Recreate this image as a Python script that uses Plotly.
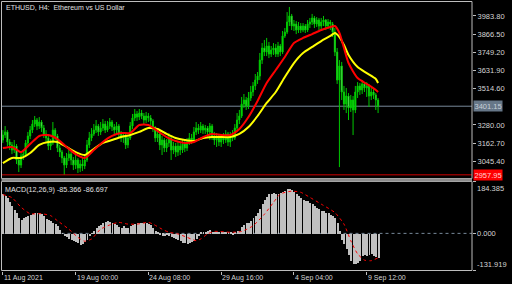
import plotly.graph_objects as go

W, H = 512, 284

# ---------------- data ----------------
first_open = 3183
closes = [3215, 3235, 3170, 3151, 3118, 3144, 3054, 3021, 3080, 3092,
          3164, 3209, 3247, 3286, 3312, 3273, 3299, 3260, 3222, 3196,
          3144, 3164, 3247, 3209, 3131, 3105, 3067, 3021, 3067, 3092,
          3054, 3021, 3054, 3002, 3028, 3015, 3054, 3151, 3196, 3222,
          3247, 3273, 3235, 3260, 3286, 3247, 3273, 3299, 3267, 3247,
          3273, 3222, 3196, 3209, 3151, 3196, 3273, 3325, 3351, 3331,
          3357, 3338, 3312, 3338, 3325, 3306, 3260, 3196, 3222, 3151,
          3183, 3131, 3164, 3196, 3118, 3144, 3105, 3144, 3118, 3157,
          3131, 3170, 3196, 3183, 3235, 3260, 3247, 3273, 3247, 3260,
          3235, 3273, 3209, 3183, 3209, 3170, 3196, 3183, 3222, 3170,
          3209, 3196, 3260, 3312, 3338, 3415, 3441, 3402, 3454, 3493,
          3532, 3570, 3596, 3699, 3777, 3751, 3790, 3738, 3764, 3777,
          3738, 3790, 3751, 3855, 3880, 3945, 3984, 3919, 3932, 3893,
          3919, 3893, 3919, 3893, 3932, 3945, 3971, 3932, 3958, 3919,
          3945, 3958, 3919, 3945, 3932, 3880, 3751, 3570, 3661, 3493,
          3415, 3467, 3390, 3441, 3377, 3493, 3532, 3506, 3545, 3519,
          3532, 3467, 3493, 3474, 3441, 3401.15]
highs = [3247, 3273, 3247, 3189, 3170, 3183, 3157, 3073, 3099, 3118,
         3183, 3235, 3273, 3312, 3338, 3325, 3331, 3312, 3280, 3247,
         3209, 3189, 3299, 3260, 3222, 3151, 3118, 3080, 3099, 3118,
         3105, 3073, 3086, 3067, 3054, 3067, 3086, 3183, 3235, 3260,
         3286, 3312, 3286, 3299, 3318, 3306, 3306, 3325, 3312, 3286,
         3299, 3286, 3241, 3235, 3222, 3215, 3299, 3351, 3383, 3370,
         3383, 3377, 3357, 3364, 3357, 3344, 3318, 3273, 3241, 3235,
         3209, 3196, 3189, 3228, 3209, 3170, 3164, 3170, 3164, 3183,
         3176, 3196, 3228, 3222, 3267, 3299, 3286, 3299, 3286, 3280,
         3273, 3293, 3286, 3235, 3228, 3222, 3222, 3228, 3247, 3235,
         3235, 3247, 3286, 3357, 3377, 3461, 3480, 3461, 3493, 3532,
         3557, 3609, 3622, 3745, 3809, 3829, 3842, 3816, 3790, 3809,
         3803, 3816, 3803, 3887, 3906, 4009, 4042, 3997, 3958, 3951,
         3945, 3938, 3938, 3932, 3958, 3971, 3997, 3984, 3977, 3971,
         3971, 3984, 3964, 3964, 3958, 3945, 3906, 3777, 3699, 3687,
         3532, 3519, 3486, 3474, 3467, 3532, 3557, 3551, 3570, 3557,
         3557, 3545, 3519, 3512, 3486, 3454]
lows = [3164, 3196, 3144, 3118, 3092, 3099, 3028, 2976, 3002, 3054,
        3073, 3144, 3189, 3228, 3267, 3247, 3254, 3235, 3196, 3164,
        3118, 3118, 3151, 3183, 3105, 3073, 3034, 2957, 3002, 3047,
        3021, 2989, 2995, 2970, 2976, 2983, 2995, 3041, 3131, 3176,
        3209, 3228, 3209, 3215, 3241, 3228, 3235, 3254, 3241, 3222,
        3228, 3196, 3170, 3164, 3125, 3131, 3183, 3254, 3306, 3306,
        3312, 3318, 3286, 3293, 3299, 3280, 3235, 3170, 3170, 3118,
        3086, 3105, 3105, 3138, 3054, 3092, 3073, 3080, 3086, 3099,
        3105, 3112, 3151, 3157, 3170, 3215, 3222, 3228, 3222, 3222,
        3202, 3183, 3183, 3151, 3138, 3144, 3138, 3157, 3164, 3144,
        3138, 3176, 3183, 3241, 3286, 3325, 3390, 3377, 3383, 3435,
        3467, 3506, 3545, 3570, 3674, 3725, 3725, 3712, 3719, 3732,
        3719, 3719, 3725, 3738, 3842, 3867, 3919, 3893, 3887, 3867,
        3874, 3874, 3880, 3874, 3880, 3906, 3926, 3906, 3913, 3893,
        3900, 3919, 3893, 3900, 3893, 3848, 3725, 3545, 3008, 3441,
        3377, 3357, 3312, 3364, 3215, 3357, 3454, 3474, 3480, 3493,
        3461, 3396, 3441, 3448, 3377, 3357]

ma_idx = [0, 4, 8, 12, 16, 20, 24, 28, 32, 36, 40, 44, 48, 52, 56, 60, 64, 68,
          72, 76, 80, 84, 88, 92, 96, 100, 104, 108, 112, 116, 120, 124, 128,
          132, 136, 140, 144, 146, 148, 150, 152, 156, 160, 164, 165]
ma_fast = [3131, 3138, 3105, 3157, 3209, 3215, 3189, 3138, 3092, 3067, 3118,
           3170, 3209, 3228, 3228, 3280, 3280, 3241, 3202, 3176, 3164, 3170,
           3202, 3222, 3215, 3215, 3254, 3331, 3435, 3551, 3635, 3719, 3809,
           3842, 3867, 3893, 3913, 3919, 3874, 3777, 3680, 3583, 3545, 3506, 3493]
ma_slow = [3034, 3067, 3067, 3099, 3151, 3170, 3170, 3138, 3105, 3086, 3125,
           3164, 3183, 3202, 3215, 3235, 3260, 3254, 3222, 3196, 3183, 3176,
           3196, 3202, 3202, 3202, 3222, 3267, 3338, 3422, 3493, 3590, 3680,
           3745, 3784, 3822, 3855, 3874, 3848, 3796, 3732, 3654, 3615, 3577, 3551]

macd = [141, 136, 126, 114, 100, 86, 74, 58, 50, 56,
        60, 63, 68, 72, 74, 75, 74, 70, 63, 54,
        48, 45, 40, 34, 27, 14, 2, -8, -12, -18,
        -22, -26, -30, -33, -40, -36, -30, -20, -8, 2,
        9, 20, 27, 33, 38, 42, 45, 44, 40, 36,
        31, 24, 21, 27, 22, 21, 27, 32, 36, 39,
        40, 39, 40, 38, 35, 33, 22, 10, 4, -4,
        -6, -8, -5, -7, -10, -14, -17, -20, -27, -31,
        -34, -36, -33, -30, -26, -18, -8, 5, 8, 7,
        9, 15, 8, 5, 6, 4, 5, 5, 6, 4,
        5, -2, 8, 10, 12, 24, 33, 38, 40, 45,
        55, 64, 74, 90, 106, 120, 132, 140, 143, 146,
        143, 140, 146, 150, 154, 158, 158, 155, 150, 142,
        134, 128, 122, 118, 116, 110, 106, 100, 92, 87,
        83, 80, 76, 73, 68, 63, 55, 40, 10, -20,
        -35, -55, -75, -97, -107, -106, -103, -95, -80, -74,
        -77, -76, -73, -79, -83, -85.366]
sig_idx = [0, 4, 8, 12, 17, 21, 24, 29, 33, 36, 39, 43, 48, 51, 55, 59, 64, 66,
           70, 73, 77, 81, 85, 87, 90, 93, 100, 105, 110, 115, 119, 122, 127,
           131, 135, 140, 146, 150, 153, 156, 159, 162, 165]
macd_signal = [138, 127, 93, 70, 70, 63, 45, 15, -14, -28, -20, 15, 33, 39, 33,
               33, 39, 33, 15, 4, -2, -14, -26, -20, -2, 7, 4, 7, 27, 68, 110,
               140, 150, 146, 128, 104, 74, 33, -26, -73, -95, -97, -86.697]

bid_price = 3401.15
level_price = 2957.95
price_ticks = [3983.80, 3866.50, 3749.20, 3631.90, 3514.60, 3280.00, 3162.70, 3045.40]
macd_max, macd_min = 184.385, -131.919
time_tick_idx = [0, 32, 64, 96, 128, 160]
time_tick_text = ["11 Aug 2021", "19 Aug 00:00", "24 Aug 08:00",
                  "29 Aug 16:00", "4 Sep 04:00", "9 Sep 12:00"]
title_text = "ETHUSD, H4:  Ethereum vs US Dollar"
macd_text = "MACD(12,26,9) -85.366 -86.697"

# ---------------- figure ----------------
idx = list(range(len(closes)))
opens = [first_open] + closes[:-1]

def px_x(p):
    return p / W

def px_y(p):
    return 1 - p / H

FONT = "Liberation Sans"
TXT = "#d4d4d4"
BORDER = "#bdbdbd"

fig = go.Figure()

fig.add_trace(go.Candlestick(
    x=idx, open=opens, high=highs, low=lows, close=closes,
    increasing=dict(line=dict(color="#00c800", width=1), fillcolor="#00ff00"),
    decreasing=dict(line=dict(color="#00c800", width=1), fillcolor="#dfffdf"),
    whiskerwidth=0, showlegend=False, hoverinfo="skip",
    xaxis="x", yaxis="y"))

fig.add_trace(go.Scatter(x=ma_idx, y=ma_slow, mode="lines",
                         line=dict(color="#ffff00", width=2, shape="spline", smoothing=0.6),
                         showlegend=False, hoverinfo="skip", xaxis="x", yaxis="y"))
fig.add_trace(go.Scatter(x=ma_idx, y=ma_fast, mode="lines",
                         line=dict(color="#ff0000", width=2, shape="spline", smoothing=0.6),
                         showlegend=False, hoverinfo="skip", xaxis="x", yaxis="y"))

fig.add_trace(go.Bar(x=idx, y=macd, width=0.42, marker=dict(color="#c0c0c0", line=dict(width=0)),
                     showlegend=False, hoverinfo="skip", xaxis="x", yaxis="y2"))
fig.add_trace(go.Scatter(x=sig_idx, y=macd_signal, mode="lines",
                         line=dict(color="#ff0000", width=1, dash="dot", shape="spline", smoothing=0.6),
                         showlegend=False, hoverinfo="skip", xaxis="x", yaxis="y2"))

x_dom = [px_x(1.5), px_x(472)]
main_dom = [px_y(178.5), px_y(1.5)]
macd_dom = [px_y(270.5), px_y(181.5)]

fig.update_layout(
    width=W, height=H,
    margin=dict(l=0, r=0, t=0, b=0),
    paper_bgcolor="#000000", plot_bgcolor="#000000",
    bargap=0,
    font=dict(family=FONT, size=7.5, color=TXT),
    xaxis=dict(domain=x_dom, range=[-0.6, 206.3], anchor="y2",
               showgrid=False, zeroline=False, showline=False,
               rangeslider=dict(visible=False),
               tickmode="array", tickvals=time_tick_idx, showticklabels=False,
               ticks="outside", ticklen=3, tickcolor=BORDER, tickwidth=1),
    yaxis=dict(domain=main_dom, range=[2934.3, 4077.4], anchor="x", side="right",
               showgrid=False, zeroline=False, showline=False,
               tickmode="array", tickvals=price_ticks,
               ticktext=["%.2f" % v for v in price_ticks],
               ticks="outside", ticklen=3, tickcolor=BORDER,
               tickfont=dict(family=FONT, size=7.5, color=TXT)),
    yaxis2=dict(domain=macd_dom, range=[macd_min, macd_max], anchor="x", side="right",
                showgrid=False, zeroline=False, showline=False,
                tickmode="array", tickvals=[macd_max, 0, macd_min], showticklabels=False,
                ticks="outside", ticklen=3, tickcolor=BORDER),
)

shapes = []
# bid line and level line
shapes.append(dict(type="line", xref="x domain", yref="y", x0=0, x1=1, y0=bid_price, y1=bid_price,
                   line=dict(color="#778899", width=1), layer="below"))
shapes.append(dict(type="line", xref="x domain", yref="y", x0=0, x1=1, y0=level_price, y1=level_price,
                   line=dict(color="#d00000", width=1)))
# macd zero level
shapes.append(dict(type="line", xref="x domain", yref="y2", x0=0, x1=1, y0=0, y1=0,
                   line=dict(color="#778899", width=1, dash="dot"), layer="below"))
# pane borders
shapes.append(dict(type="rect", xref="x domain", yref="y domain", x0=0, x1=1, y0=0, y1=1,
                   line=dict(color=BORDER, width=1)))
shapes.append(dict(type="rect", xref="x domain", yref="y2 domain", x0=0, x1=1, y0=0, y1=1,
                   line=dict(color=BORDER, width=1)))
# separator band between the panes
shapes.append(dict(type="rect", xref="x domain", yref="paper", x0=0, x1=1,
                   y0=macd_dom[1], y1=main_dom[0],
                   line=dict(width=0), fillcolor="#8c8c8c"))
fig.update_layout(shapes=shapes)

ann = []
ann.append(dict(text=title_text, xref="paper", yref="paper", x=px_x(4), y=px_y(2),
                xanchor="left", yanchor="top", showarrow=False,
                font=dict(family=FONT, size=7, color="#e0e0e0")))
ann.append(dict(text=macd_text, xref="paper", yref="paper", x=px_x(3), y=px_y(182.5),
                xanchor="left", yanchor="top", showarrow=False,
                font=dict(family=FONT, size=7.2, color="#e0e0e0")))
ann.append(dict(text="%.2f" % bid_price, xref="paper", yref="y", x=px_x(473), y=bid_price,
                xanchor="left", yanchor="middle", showarrow=False, bgcolor="#667788",
                borderpad=0.5, font=dict(family=FONT, size=7.5, color="#c8d0d8")))
ann.append(dict(text="%.2f" % level_price, xref="paper", yref="y", x=px_x(473), y=level_price,
                xanchor="left", yanchor="middle", showarrow=False, bgcolor="#ff0000",
                borderpad=0.5, font=dict(family=FONT, size=7.5, color="#ffd0d0")))
ann.append(dict(text="%.3f" % macd_max, xref="paper", yref="y2", x=px_x(475), y=macd_max,
                xanchor="left", yanchor="top", showarrow=False,
                font=dict(family=FONT, size=7.5, color=TXT)))
ann.append(dict(text="0.000", xref="paper", yref="y2", x=px_x(475), y=0,
                xanchor="left", yanchor="middle", showarrow=False,
                font=dict(family=FONT, size=7.5, color=TXT)))
ann.append(dict(text="%.3f" % macd_min, xref="paper", yref="y2", x=px_x(475), y=macd_min,
                xanchor="left", yanchor="bottom", showarrow=False,
                font=dict(family=FONT, size=7.5, color=TXT)))
for ti, tt in zip(time_tick_idx, time_tick_text):
    ann.append(dict(text=tt, xref="x", yref="paper", x=ti, y=px_y(272),
                    xanchor="left", yanchor="top", showarrow=False, xshift=-1,
                    font=dict(family=FONT, size=7, color=TXT)))
fig.update_layout(annotations=ann)

fig.write_html("out.html")
